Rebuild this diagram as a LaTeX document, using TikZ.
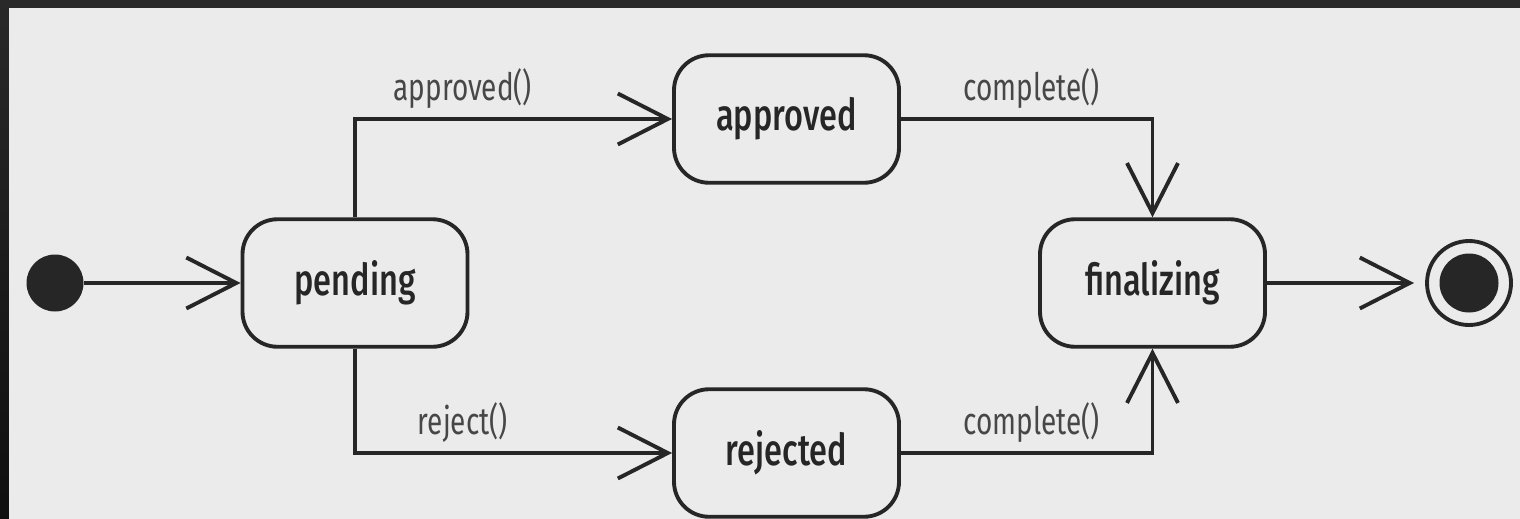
\documentclass[tikz,border=0pt]{standalone}
\usepackage{fontspec}
\setmainfont{Fira Sans}
\newfontfamily\statefont[FakeStretch=0.74]{Fira Sans Medium}
\newfontfamily\eventfont[FakeStretch=0.74]{Fira Sans}
\usepackage{tikz}
\usetikzlibrary{arrows.meta, shapes, positioning}

\definecolor{umlink}{HTML}{262626}
\definecolor{paper}{HTML}{EBEBEB}

\begin{document}
\begin{tikzpicture}[node distance=2cm,on grid,
    stnode/.style={draw=umlink,line width=2.2pt,rounded corners=0.7cm,
      minimum width=4.5cm,minimum height=2.55cm,text=umlink,
      font=\statefont\fontsize{25}{28}\selectfont},
    startdot/.style={circle,fill=umlink,minimum size=1.14cm,inner sep=0pt},
    stopring/.style={circle,draw=umlink,line width=2.2pt,minimum size=1.68cm,
      inner sep=0pt,outer sep=0.26cm,
      path picture={\fill[umlink] (path picture bounding box.center) circle (0.59cm);}},
    trans/.style={draw=umlink,line width=2.2pt,
      -{Straight Barb[length=1cm,width=1.02cm,line width=2.2pt]}},
    event/.style={text=umlink!85!white,inner sep=5pt,
      font=\eventfont\fontsize{21.5}{24}\selectfont}]
  % frame and paper
  \useasboundingbox (0,0) rectangle (30.4,-10.36);
  \shade[top color=black!84,bottom color=black!94] (0,0) rectangle (30.4,-10.36);
  \fill[paper] (0.18,-0.16) rectangle (30.6,-10.6);

  \node[startdot] (start)      at (1.10,-5.66)                      {};
  \node[stnode]   (pending)    [right=6cm of start]                 {pending};
  \node[stnode]   (approved)   [above right=3.28cm and 8.63cm of pending] {approved};
  \node[stnode]   (rejected)   [below right=3.40cm and 8.63cm of pending] {rejected};
  \node[stnode]   (finalizing) [right=15.95cm of pending]           {finalizing};
  \node[stopring] (stop)       [right=6.33cm of finalizing]         {};

  \draw[trans] (start) -- (pending);
  \draw[trans] (pending.north) |- node[event,pos=0.67,above] {approved()} (approved);
  \draw[trans] (pending.south) |- node[event,pos=0.67,above] {reject()} (rejected);
  \draw[trans] (approved) -| node[event,pos=0.26,above] {complete()} (finalizing);
  \draw[trans] (rejected) -| node[event,pos=0.26,above] {complete()} (finalizing);
  \draw[trans] (finalizing) -- (stop);
\end{tikzpicture}
\end{document}
